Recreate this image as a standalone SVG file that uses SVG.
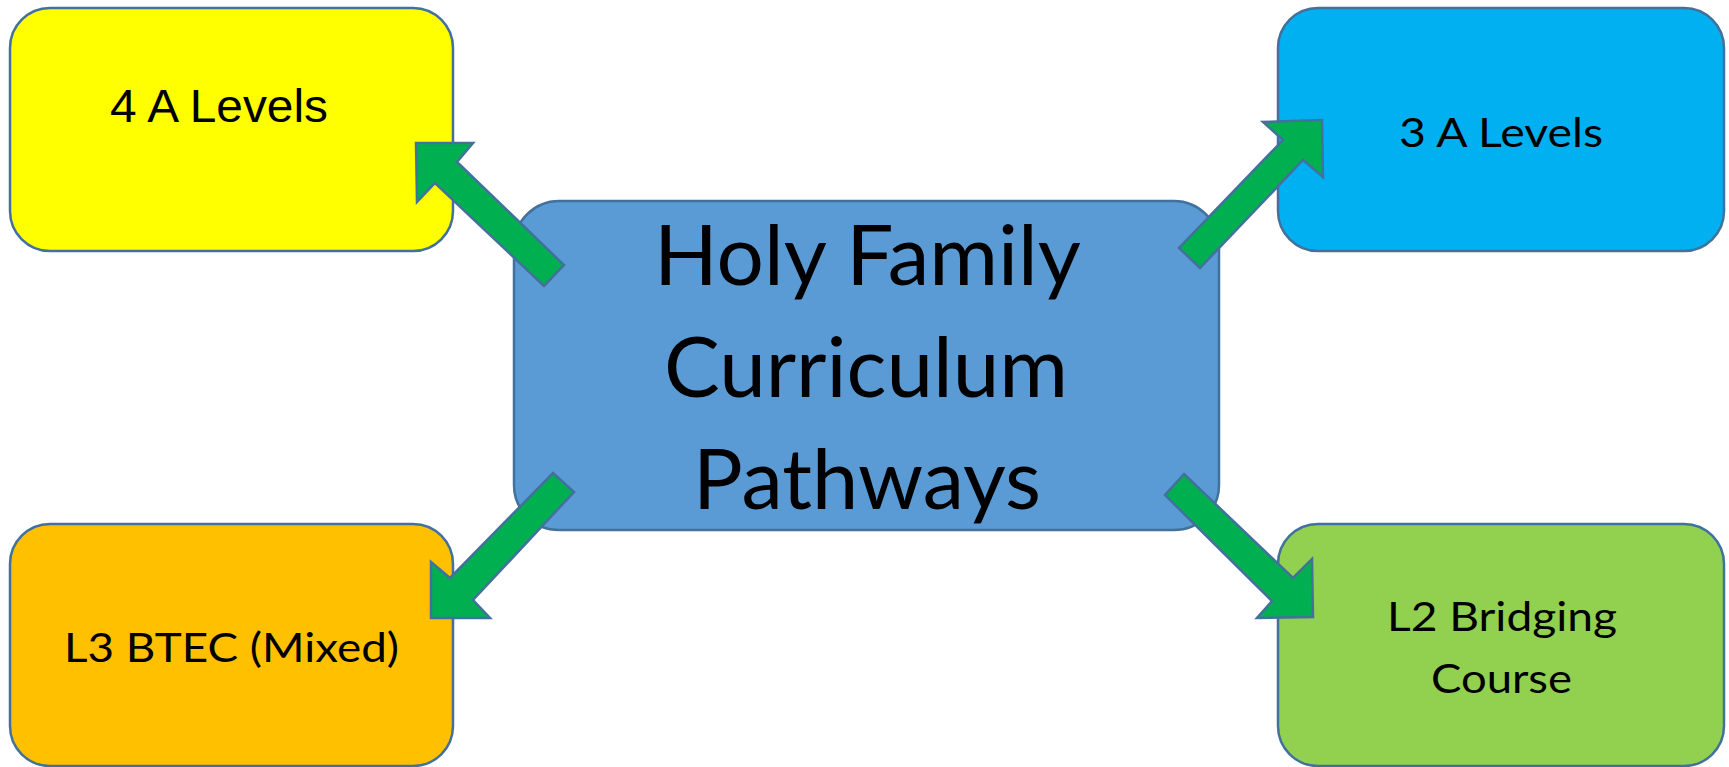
<svg xmlns="http://www.w3.org/2000/svg" width="1729" height="767" viewBox="0 0 1729 767">
<style>
.box{stroke:#41719C;stroke-width:2.5}
.arrow{fill:#00B050;stroke:#41719C;stroke-width:2.5;stroke-linejoin:miter}
.t{font-family:"Lato","Open Sans",sans-serif;fill:#000;text-anchor:middle}
.a{font-family:"Liberation Sans",Arial,sans-serif;fill:#000;text-anchor:middle}
</style>
<rect width="1729" height="767" fill="#fff"/>
<g id="node-4a">
<rect class="box" x="10" y="8" width="443" height="243" rx="40" fill="#FFFF00"/>
<text class="a" x="219" y="122" font-size="47" textLength="218" lengthAdjust="spacingAndGlyphs">4 A Levels</text>
</g>
<g id="node-3a">
<rect class="box" x="1278" y="8" width="446" height="243" rx="40" fill="#00B0F0"/>
<text class="t" x="1501" y="147" font-size="40" textLength="204" lengthAdjust="spacingAndGlyphs">3 A Levels</text>
</g>
<g id="node-btec">
<rect class="box" x="10" y="524" width="443" height="242" rx="40" fill="#FFC000"/>
<text class="t" x="231.5" y="662" font-size="40" textLength="335" lengthAdjust="spacingAndGlyphs">L3 BTEC (Mixed)</text>
</g>
<g id="node-l2">
<rect class="box" x="1278" y="524" width="446" height="242" rx="40" fill="#92D050"/>
<text class="t" x="1502" y="631" font-size="40" textLength="230" lengthAdjust="spacingAndGlyphs">L2 Bridging</text>
<text class="t" x="1501.5" y="693" font-size="40" textLength="141" lengthAdjust="spacingAndGlyphs">Course</text>
</g>
<g id="node-center">
<rect class="box" x="514" y="201" width="705" height="329" rx="45" fill="#5B9BD5"/>
<text class="t" x="867.5" y="285" font-size="83" textLength="427" lengthAdjust="spacingAndGlyphs">Holy Family</text>
<text class="t" x="866" y="397" font-size="83" textLength="404" lengthAdjust="spacingAndGlyphs">Curriculum</text>
<text class="t" x="867" y="509" font-size="83" textLength="348" lengthAdjust="spacingAndGlyphs">Pathways</text>
</g>
<g id="connectors">
<polygon class="arrow" points="416,143 473,143 457,162 564,265 544,286 435,183 417,202"/>
<polygon class="arrow" points="1322,120 1323,177 1303,160 1200,268 1179,248 1283,140 1263,122"/>
<polygon class="arrow" points="553,473 574,492 473,600 490,618 431,618 431,562 450,578"/>
<polygon class="arrow" points="1184,474 1293,578 1312,559 1313,617 1257,618 1272,601 1165,495"/>
</g>
</svg>
